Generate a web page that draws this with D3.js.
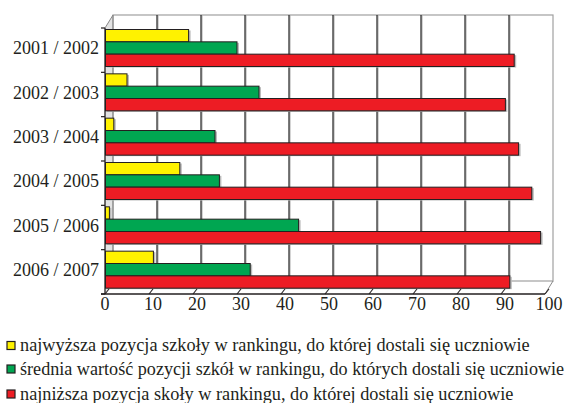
<!DOCTYPE html>
<html>
<head>
<meta charset="utf-8">
<script src="https://cdn.jsdelivr.net/npm/d3@7"></script>
<style>
  body { margin: 0; background: #fff; }
</style>
</head>
<body>
<div id="chart"></div>
<script>
// data
const categories = ["2001 / 2002", "2002 / 2003", "2003 / 2004", "2004 / 2005", "2005 / 2006", "2006 / 2007"];
const najwyzsza = [19, 5, 2, 17, 1, 11];
const srednia = [30, 35, 25, 26, 44, 33];
const najnizsza = [93, 91, 94, 97, 99, 92];
const seriesNames = [
    "najwyższa pozycja szkoły w rankingu, do której dostali się uczniowie",
    "średnia wartość pozycji szkół w rankingu, do których dostali się uczniowie",
    "najniższa pozycja skoły w rankingu, do której dostali się uczniowie"
];
const seriesColors = ["#fff200", "#00a651", "#ed1c24"];
const xTicks = [0, 10, 20, 30, 40, 50, 60, 70, 80, 90, 100];

const seriesValues = [najwyzsza, srednia, najnizsza];
const serif = "'Liberation Serif'";

const svg = d3.select("#chart")
    .append("svg")
    .attr("width", 566)
    .attr("height", 403)
    .style("display", "block");

// 3d depth offset
const dx = 8, dy = -13;
const top0 = 28, bottom0 = 294;

const x = d3.scaleLinear()
    .domain([0, 100])
    .range([105, 545]);

const y = d3.scaleBand()
    .domain(categories)
    .range([top0, bottom0]);

const ySub = d3.scaleBand()
    .domain([0, 1, 2])
    .range([1.5, 38.5]);

// left side wall
svg.append("path")
    .attr("d", "M" + x(0) + "," + top0 + "L" + (x(0) + dx) + "," + (top0 + dy) +
        "L" + (x(0) + dx) + "," + (bottom0 + dy) + "L" + x(0) + "," + bottom0 + "Z")
    .attr("fill", "#e3e3e3")
    .attr("stroke", "none");

// back wall
svg.append("rect")
    .attr("x", x(0) + dx)
    .attr("y", top0 + dy)
    .attr("width", x(100) - x(0))
    .attr("height", bottom0 - top0)
    .attr("fill", "#fff")
    .attr("stroke", "#a0a0a0")
    .attr("stroke-width", 1.2);

// gridlines on back wall
const grid = svg.append("g");
grid.selectAll("line.shadow")
    .data(xTicks.slice(1, -1))
    .enter()
    .append("line")
    .attr("class", "shadow")
    .attr("x1", d => x(d) + dx + 1)
    .attr("x2", d => x(d) + dx + 1)
    .attr("y1", top0 + dy)
    .attr("y2", bottom0 + dy)
    .attr("stroke", "#aaa")
    .attr("stroke-width", 1);
grid.selectAll("line.main")
    .data(xTicks.slice(1, -1))
    .enter()
    .append("line")
    .attr("class", "main")
    .attr("x1", d => x(d) + dx)
    .attr("x2", d => x(d) + dx)
    .attr("y1", top0 + dy)
    .attr("y2", bottom0 + dy)
    .attr("stroke", "#222")
    .attr("stroke-width", 1.2);

// left edge of back wall
svg.append("line")
    .attr("x1", x(0) + dx).attr("x2", x(0) + dx)
    .attr("y1", top0 + dy).attr("y2", bottom0 + dy)
    .attr("stroke", "#888");

// top-left diagonal
svg.append("line")
    .attr("x1", x(0)).attr("y1", top0)
    .attr("x2", x(0) + dx).attr("y2", top0 + dy)
    .attr("stroke", "#888");

// floor right diagonal
svg.append("line")
    .attr("x1", x(100)).attr("y1", bottom0)
    .attr("x2", x(100) + dx).attr("y2", bottom0 + dy)
    .attr("stroke", "#888");

// bars
const groups = svg.append("g")
    .selectAll("g")
    .data(categories)
    .enter()
    .append("g")
    .attr("transform", d => "translate(0," + y(d) + ")");

groups.selectAll("rect.shadow")
    .data((d, i) => seriesValues.map((s, k) => ({ k: k, v: s[i] })))
    .enter()
    .append("rect")
    .attr("class", "shadow")
    .attr("x", x(0) + 2)
    .attr("y", d => ySub(d.k) + 1)
    .attr("width", d => x(d.v) - x(0))
    .attr("height", ySub.bandwidth())
    .attr("fill", "#bbb");

groups.selectAll("rect.bar")
    .data((d, i) => seriesValues.map((s, k) => ({ k: k, v: s[i] })))
    .enter()
    .append("rect")
    .attr("class", "bar")
    .attr("x", x(0) + 0.5)
    .attr("y", d => ySub(d.k))
    .attr("width", d => x(d.v) - x(0) - 0.5)
    .attr("height", ySub.bandwidth())
    .attr("fill", d => seriesColors[d.k])
    .attr("stroke", "#231f20")
    .attr("stroke-width", 1);

// left axis
svg.append("line")
    .attr("x1", x(0)).attr("x2", x(0))
    .attr("y1", top0).attr("y2", bottom0)
    .attr("stroke", "#231f20")
    .attr("stroke-width", 1.3);

svg.append("g")
    .selectAll("line")
    .data(categories.concat(["end"]))
    .enter()
    .append("line")
    .attr("x1", x(0) - 4)
    .attr("x2", x(0))
    .attr("y1", (d, i) => top0 + i * y.step())
    .attr("y2", (d, i) => top0 + i * y.step())
    .attr("stroke", "#231f20")
    .attr("stroke-width", 1.2);

svg.append("g")
    .selectAll("text")
    .data(categories)
    .enter()
    .append("text")
    .attr("x", 99)
    .attr("y", d => y(d) + y.bandwidth() / 2 - 2)
    .attr("dy", "0.35em")
    .attr("text-anchor", "end")
    .attr("font-family", serif)
    .attr("font-size", "18px")
    .attr("fill", "#231f20")
    .text(d => d);

// bottom axis
svg.append("line")
    .attr("x1", x(0) - 4).attr("x2", x(100))
    .attr("y1", bottom0).attr("y2", bottom0)
    .attr("stroke", "#231f20")
    .attr("stroke-width", 1.3);

svg.append("g")
    .selectAll("line")
    .data(xTicks)
    .enter()
    .append("line")
    .attr("x1", d => x(d))
    .attr("y1", bottom0)
    .attr("x2", d => x(d) + 4)
    .attr("y2", bottom0 - 5)
    .attr("stroke", "#231f20")
    .attr("stroke-width", 1.1);

svg.append("g")
    .selectAll("text")
    .data(xTicks)
    .enter()
    .append("text")
    .attr("x", d => x(d) + (d === 0 ? 0 : 4))
    .attr("y", 310)
    .attr("text-anchor", "middle")
    .attr("font-family", serif)
    .attr("font-size", "18px")
    .attr("fill", "#231f20")
    .text(d => d);

// legend
const legend = svg.append("g")
    .selectAll("g")
    .data(seriesNames)
    .enter()
    .append("g")
    .attr("transform", (d, i) => "translate(0," + [345.5, 369, 394][i] + ")");

legend.append("rect")
    .attr("x", 7)
    .attr("y", -4)
    .attr("width", 8)
    .attr("height", 8)
    .attr("fill", (d, i) => seriesColors[i])
    .attr("stroke", "#231f20")
    .attr("stroke-width", 1.2);

legend.append("text")
    .attr("x", 20)
    .attr("y", 0)
    .attr("dy", "0.32em")
    .attr("font-family", serif)
    .attr("font-size", "18.3px")
    .attr("fill", "#231f20")
    .text(d => d)
    .each(function() {
        // keep the long line inside the picture
        const w = this.getComputedTextLength();
        if (20 + w > 564) {
            d3.select(this).attr("font-size", (18.3 * 544 / w).toFixed(2) + "px");
        }
    });
</script>
</body>
</html>
